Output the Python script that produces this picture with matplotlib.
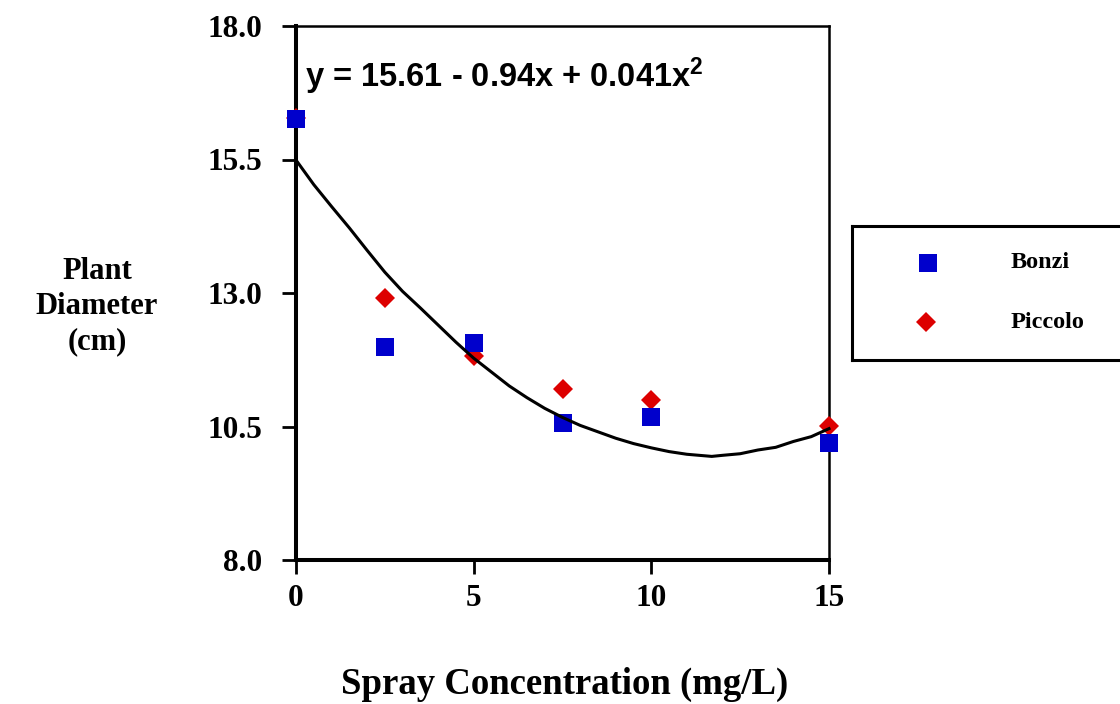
#!/usr/bin/env python3
"""Plant diameter vs spray concentration (Bonzi / Piccolo)."""

import matplotlib
matplotlib.use('Agg')
import matplotlib.pyplot as plt

plt.rcParams['font.family'] = 'Liberation Serif'
plt.rcParams['font.weight'] = 'bold'
plt.rcParams['mathtext.fontset'] = 'custom'
plt.rcParams['mathtext.rm'] = 'Liberation Sans:bold'
plt.rcParams['mathtext.it'] = 'Liberation Sans:bold'
plt.rcParams['mathtext.bf'] = 'Liberation Sans:bold'

# Data
conc = [0, 2.5, 5, 7.5, 10, 15]
bonzi = [16.26, 11.99, 12.06, 10.57, 10.68, 10.19]
piccolo = [16.28, 12.91, 11.82, 11.20, 11.00, 10.51]

# fitted curve as drawn
curve_x = [0, 0.5, 1, 1.5, 2, 2.5, 3, 3.5, 4, 4.5, 5, 5.5, 6, 6.5, 7, 7.5, 8,
           8.5, 9, 9.5, 10, 10.5, 11, 11.7, 12, 12.5, 13, 13.5, 14, 14.5, 15]
curve_y = [15.49, 15.03, 14.62, 14.22, 13.80, 13.39, 13.03, 12.72, 12.40,
           12.08, 11.78, 11.52, 11.26, 11.04, 10.84, 10.67, 10.52, 10.40,
           10.28, 10.18, 10.10, 10.03, 9.98, 9.94, 9.96, 9.99, 10.06, 10.11,
           10.22, 10.31, 10.46]

equation = r'y = 15.61 - 0.94x + 0.041x$^2$'
yticks = [8.0, 10.5, 13.0, 15.5, 18.0]
xticks = [0, 5, 10, 15]

blue = '#0000CC'
red = '#DD0000'

W, H = 1120, 704
fig = plt.figure(figsize=(W / 100, H / 100), dpi=100)
ax = fig.add_axes([296 / W, 1 - 560 / H, (829 - 296) / W, (560 - 26) / H])

ax.plot(conc, piccolo, linestyle='none', marker='D', markersize=9.7,
        color=red, markeredgewidth=0, clip_on=False, zorder=3)
ax.plot(conc, bonzi, linestyle='none', marker='s', markersize=13.5,
        color=blue, markeredgewidth=0, clip_on=False, zorder=4)
ax.plot(curve_x, curve_y, color='black', linewidth=2.2, zorder=5, clip_on=False)

ax.set_xlim(0, 15)
ax.set_ylim(8, 18)
ax.set_xticks(xticks)
ax.set_yticks(yticks)
ax.set_yticklabels([f'{v:.1f}' for v in yticks])
ax.tick_params(axis='both', direction='out', length=10, width=2, labelsize=22.5)
ax.tick_params(axis='y', pad=14)
ax.tick_params(axis='x', pad=7)

ax.spines['left'].set_linewidth(2.9)
ax.spines['bottom'].set_linewidth(2.9)
ax.spines['top'].set_linewidth(1.8)
ax.spines['right'].set_linewidth(1.8)

# equation placed in figure pixel coords
fig.text(305 / W, 1 - 87 / H, equation, fontsize=23.5, ha='left',
         va='baseline', fontfamily='Liberation Sans', fontweight='bold')

fig.text(97 / W, 1 - 307 / H, 'Plant\nDiameter\n(cm)', ha='center', va='center',
         multialignment='center', fontsize=22, linespacing=1.28)
fig.text(565 / W, 1 - 684 / H, 'Spray Concentration (mg/L)', ha='center',
         va='center', fontsize=26.5)

# Legend box (runs off the right edge like the original)
lax = fig.add_axes([852 / W, 1 - 360 / H, (1135 - 852) / W, (360 - 226) / H])
lax.set_xlim(852, 1135)
lax.set_ylim(360, 226)
lax.set_xticks([])
lax.set_yticks([])
for s in lax.spines.values():
    s.set_linewidth(2.2)
lax.plot([928], [263], linestyle='none', marker='s', markersize=13.5,
         color=blue, markeredgewidth=0)
lax.plot([926], [322], linestyle='none', marker='D', markersize=9.7,
         color=red, markeredgewidth=0)
lax.text(1011, 263, 'Bonzi', fontsize=17.5, va='center', ha='left')
lax.text(1011, 322, 'Piccolo', fontsize=17.5, va='center', ha='left')

plt.savefig('out.png', dpi=100)
print('Saved: out.png')
